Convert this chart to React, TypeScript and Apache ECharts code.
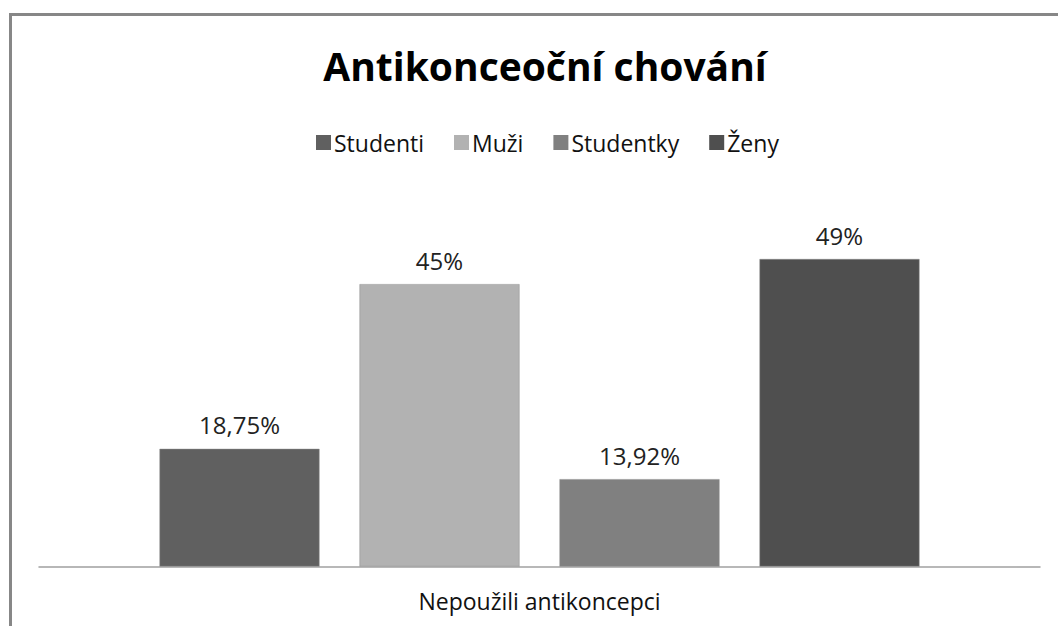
import React, { useEffect, useRef } from "react";
import * as echarts from "echarts";

const categories = ["Nepoužili antikoncepci"];
const seriesNames = ["Studenti", "Muži", "Studentky", "Ženy"];
const seriesValues = [[18.75], [45], [13.92], [49]];
const seriesColors = ["#606060", "#b2b2b2", "#808080", "#4f4f4f"];

const FONT = "'Open Sans', 'Noto Sans', sans-serif";

export default function App() {
  const ref = useRef<HTMLDivElement>(null);
  useEffect(() => {
    if (!ref.current) return;
    const chart = echarts.init(ref.current, undefined, { renderer: "svg" });
    chart.setOption({
      animation: false,
      backgroundColor: "#ffffff",
      title: {
        text: "Antikonceoční chování",
        left: 540,
        textAlign: "center",
        top: 41,
        textStyle: { fontFamily: FONT, fontSize: 39, fontWeight: "bold", color: "#000000" },
      },
      legend: {
        top: 126,
        left: 311,
        icon: "rect",
        itemWidth: 15,
        itemHeight: 15,
        itemGap: 30,
        itemStyle: { borderWidth: 0 },
        textStyle: { fontFamily: FONT, fontSize: 23, color: "#111111", padding: [0, 0, 0, -2] },
        data: seriesNames,
      },
      graphic: [
        {
          type: "rect",
          shape: { x: 10.5, y: 14.5, width: 1100, height: 700 },
          style: { fill: "none", stroke: "#878787", lineWidth: 3 },
          silent: true,
        },
      ],
      grid: { left: 39, right: 18, top: 190, bottom: 59.5 },
      xAxis: {
        type: "category",
        data: categories,
        axisLine: { lineStyle: { color: "#a0a0a0", width: 1.5 } },
        axisTick: { show: false },
        axisLabel: { fontFamily: FONT, fontSize: 23, color: "#111111", margin: 23 },
      },
      yAxis: {
        type: "value",
        min: 0,
        max: 60,
        show: false,
        splitLine: { show: false },
      },
      series: seriesNames.map((name, i) => ({
        name,
        type: "bar",
        data: seriesValues[i],
        barWidth: 160,
        barGap: "25%",
        itemStyle: { color: seriesColors[i], borderColor: "#8c8c8c", borderWidth: 0.5 },
        label: {
          show: true,
          position: "top",
          distance: 12,
          fontFamily: FONT,
          fontSize: 24,
          color: "#222222",
          formatter: (p: any) => String(p.value).replace(".", ",") + "%",
        },
      })),
    });
    return () => chart.dispose();
  }, []);
  return (
    <div
      ref={ref}
      style={{ position: "fixed", left: 0, top: 0, width: 1058, height: 626 }}
    />
  );
}
